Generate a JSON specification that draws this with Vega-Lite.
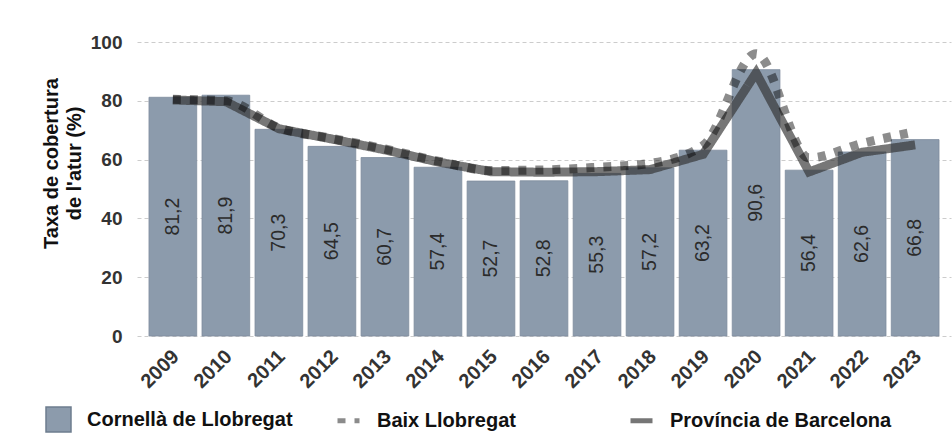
{
  "$schema": "https://vega.github.io/schema/vega-lite/v6.json",
  "width": 814,
  "height": 294,
  "autosize": {"type": "none"},
  "padding": {"left": 137, "top": 42, "right": 1, "bottom": 105},
  "background": "white",
  "config": {
    "font": "Liberation Sans",
    "view": {"stroke": null},
    "axis": {"labelFont": "Liberation Sans", "titleFont": "Liberation Sans"}
  },
  "datasets": {
    "bars": [
      {"year": "2009", "value": 81.2, "label": "81,2"},
      {"year": "2010", "value": 81.9, "label": "81,9"},
      {"year": "2011", "value": 70.3, "label": "70,3"},
      {"year": "2012", "value": 64.5, "label": "64,5"},
      {"year": "2013", "value": 60.7, "label": "60,7"},
      {"year": "2014", "value": 57.4, "label": "57,4"},
      {"year": "2015", "value": 52.7, "label": "52,7"},
      {"year": "2016", "value": 52.8, "label": "52,8"},
      {"year": "2017", "value": 55.3, "label": "55,3"},
      {"year": "2018", "value": 57.2, "label": "57,2"},
      {"year": "2019", "value": 63.2, "label": "63,2"},
      {"year": "2020", "value": 90.6, "label": "90,6"},
      {"year": "2021", "value": 56.4, "label": "56,4"},
      {"year": "2022", "value": 62.6, "label": "62,6"},
      {"year": "2023", "value": 66.8, "label": "66,8"}
    ],
    "lines": [
      {"year": "2009", "series": "Província de Barcelona", "value": 80.3},
      {"year": "2010", "series": "Província de Barcelona", "value": 79.7},
      {"year": "2011", "series": "Província de Barcelona", "value": 70.5},
      {"year": "2012", "series": "Província de Barcelona", "value": 67.0},
      {"year": "2013", "series": "Província de Barcelona", "value": 63.3},
      {"year": "2014", "series": "Província de Barcelona", "value": 59.2},
      {"year": "2015", "series": "Província de Barcelona", "value": 55.9},
      {"year": "2016", "series": "Província de Barcelona", "value": 55.7},
      {"year": "2017", "series": "Província de Barcelona", "value": 55.9},
      {"year": "2018", "series": "Província de Barcelona", "value": 56.6},
      {"year": "2019", "series": "Província de Barcelona", "value": 61.8},
      {"year": "2020", "series": "Província de Barcelona", "value": 89.5},
      {"year": "2021", "series": "Província de Barcelona", "value": 55.8},
      {"year": "2022", "series": "Província de Barcelona", "value": 62.5},
      {"year": "2023", "series": "Província de Barcelona", "value": 65.0},
      {"year": "2009", "series": "Baix Llobregat", "value": 80.5},
      {"year": "2010", "series": "Baix Llobregat", "value": 80.0},
      {"year": "2011", "series": "Baix Llobregat", "value": 70.8},
      {"year": "2012", "series": "Baix Llobregat", "value": 67.2},
      {"year": "2013", "series": "Baix Llobregat", "value": 63.6},
      {"year": "2014", "series": "Baix Llobregat", "value": 59.5},
      {"year": "2015", "series": "Baix Llobregat", "value": 56.3},
      {"year": "2016", "series": "Baix Llobregat", "value": 56.5},
      {"year": "2017", "series": "Baix Llobregat", "value": 57.4},
      {"year": "2018", "series": "Baix Llobregat", "value": 58.7},
      {"year": "2019", "series": "Baix Llobregat", "value": 64.8},
      {"year": "2020", "series": "Baix Llobregat", "value": 96.0},
      {"year": "2021", "series": "Baix Llobregat", "value": 60.6},
      {"year": "2022", "series": "Baix Llobregat", "value": 65.5},
      {"year": "2023", "series": "Baix Llobregat", "value": 69.5}
    ]
  },
  "encoding": {
    "x": {
      "field": "year",
      "type": "ordinal",
      "scale": {"paddingInner": 0.1, "paddingOuter": 0.226},
      "axis": {
        "title": null,
        "labelAngle": -45,
        "labelFontSize": 20,
        "labelFontWeight": "bold",
        "labelColor": "#333333",
        "ticks": false,
        "domain": false,
        "labelPadding": 10,
        "labelOffset": -4
      }
    }
  },
  "layer": [
    {
      "data": {"name": "bars"},
      "mark": {"type": "bar", "stroke": "#7d8c9d", "strokeWidth": 0.8},
      "encoding": {
        "y": {
          "field": "value",
          "type": "quantitative",
          "scale": {"domain": [0, 100]},
          "axis": {
            "title": ["Taxa de cobertura", "de l'atur (%)"],
            "titleFontSize": 20,
            "titleFontWeight": "bold",
            "titleColor": "#111111",
            "titleLineHeight": 23,
            "titlePadding": 6,
            "titleY": 121,
            "values": [0, 20, 40, 60, 80, 100],
            "labelFontSize": 19,
            "labelFontWeight": "bold",
            "labelColor": "#333333",
            "labelPadding": 15,
            "ticks": false,
            "domain": false,
            "grid": true,
            "gridColor": "#cccccc",
            "gridDash": [4, 3],
            "gridWidth": 1
          }
        },
        "fill": {
          "datum": "Cornellà de Llobregat",
          "type": "nominal",
          "scale": {"range": ["#8c9bac"]},
          "legend": {
            "title": null,
            "orient": "none",
            "legendX": -92,
            "legendY": 364,
            "symbolType": "square",
            "symbolSize": 625,
            "symbolStrokeColor": "#6e7d8e",
            "symbolStrokeWidth": 1.5,
            "symbolOpacity": 1,
            "labelFontSize": 20,
            "labelFontWeight": "bold",
            "labelColor": "#111111",
            "labelOffset": 15,
            "labelLimit": 400
          }
        }
      }
    },
    {
      "data": {"name": "bars"},
      "transform": [{"calculate": "datum.value / 2", "as": "mid"}],
      "mark": {"type": "text", "angle": -90, "fontSize": 19.5, "color": "#2b2b2b", "baseline": "middle", "align": "center"},
      "encoding": {
        "y": {"field": "mid", "type": "quantitative"},
        "text": {"field": "label"}
      }
    },
    {
      "data": {"name": "lines"},
      "transform": [{"filter": "datum.series == 'Província de Barcelona'"}],
      "mark": {"type": "line", "interpolate": "linear", "strokeWidth": 9, "strokeCap": "butt", "strokeJoin": "miter"},
      "encoding": {
        "y": {"field": "value", "type": "quantitative"},
        "stroke": {
          "field": "series",
          "type": "nominal",
          "scale": {"domain": ["Baix Llobregat", "Província de Barcelona"], "range": ["#000000", "#303030"]},
          "legend": {
            "title": null,
            "orient": "none",
            "direction": "horizontal",
            "columns": 2,
            "legendX": 198,
            "legendY": 365,
            "symbolType": "stroke",
            "symbolSize": 484,
            "symbolStrokeWidth": 5,
            "labelFontSize": 20,
            "labelFontWeight": "bold",
            "labelColor": "#111111",
            "labelOffset": 15,
            "labelLimit": 400,
            "columnPadding": 104
          }
        },
        "strokeDash": {
          "field": "series",
          "type": "nominal",
          "scale": {"domain": ["Baix Llobregat", "Província de Barcelona"], "range": [[8, 9], [1, 0]]}
        },
        "opacity": {
          "field": "series",
          "type": "nominal",
          "scale": {"domain": ["Baix Llobregat", "Província de Barcelona"], "range": [0.45, 0.66]}
        }
      }
    },
    {
      "data": {"name": "lines"},
      "transform": [{"filter": "datum.series == 'Baix Llobregat'"}],
      "mark": {"type": "line", "interpolate": "monotone", "strokeWidth": 9, "strokeCap": "butt"},
      "encoding": {
        "y": {"field": "value", "type": "quantitative"},
        "stroke": {"field": "series", "type": "nominal"},
        "strokeDash": {"field": "series", "type": "nominal"},
        "opacity": {"field": "series", "type": "nominal"}
      }
    }
  ]
}
